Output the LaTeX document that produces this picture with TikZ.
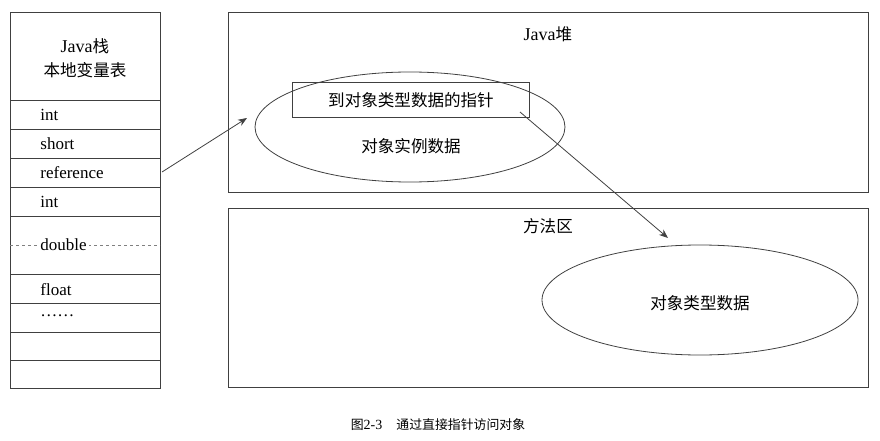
\documentclass[tikz,border=0pt]{standalone}
\usepackage{fontspec}
\usetikzlibrary{arrows.meta}
\setmainfont{Liberation Serif}
\newfontfamily\cjk{Noto Sans CJK SC}[Scale=0.92]
\begin{document}
\begin{tikzpicture}[x=1pt,y=-1pt,line width=0.8pt,draw=black!75,
  lbl/.style={font=\fontsize{17}{19}\selectfont,anchor=west,inner sep=0},
  ctr/.style={font=\fontsize{18}{21}\selectfont,inner sep=0,align=center},
  arr/.style={-{Stealth[length=9pt,width=7pt]},line width=0.8pt}]
\useasboundingbox (0,0) rectangle (880,441);
% stack table
\draw (10,12) rectangle (160,388);
\foreach \y in {100,129,158,187,216,274,303,332,360}
  \draw (10,\y) -- (160,\y);
\draw[dashed,black!50] (10,245) -- (160,245);
\node[ctr] (h) at (85,58) {Java{\cjk 栈}\\[3pt]{\cjk 本地变量表}};
\node[lbl] (r1) at (40,115) {int};
\node[lbl] (r2) at (40,144) {short};
\node[lbl] (r3) at (40,173) {reference};
\node[lbl] (r4) at (40,202) {int};
\node[lbl,fill=white,inner xsep=2pt] (r5) at (38,245) {double};
\node[lbl] (r6) at (40,290) {float};
\node[lbl] (r7) at (40,316) {……};
% heap
\draw (228,12) rectangle (868,192);
\node[ctr] (heap) at (548,34) {Java{\cjk 堆}};
\draw (410,127) ellipse [x radius=155,y radius=55];
\node[ctr,draw,minimum width=237,minimum height=35] (ptr) at (411,100) {\cjk 到对象类型数据的指针};
\node[ctr] (inst) at (411,146) {\cjk 对象实例数据};
% method area
\draw (228,208) rectangle (868,387);
\node[ctr] (meth) at (548,226) {\cjk 方法区};
\draw (700,300) ellipse [x radius=158,y radius=55];
\node[ctr] (type) at (700,303) {\cjk 对象类型数据};
\coordinate (a1) at (162,172);
\coordinate (a2) at (247,118);
\coordinate (b1) at (520,112);
\coordinate (b2) at (668,238);
\draw[arr] (a1) -- (a2);
\draw[arr] (b1) -- (b2);
\node[ctr,font=\fontsize{14}{16}\selectfont] (cap) at (438,425) {{\cjk 图}2-3\quad{\cjk 通过直接指针访问对象}};
\end{tikzpicture}
\end{document}
